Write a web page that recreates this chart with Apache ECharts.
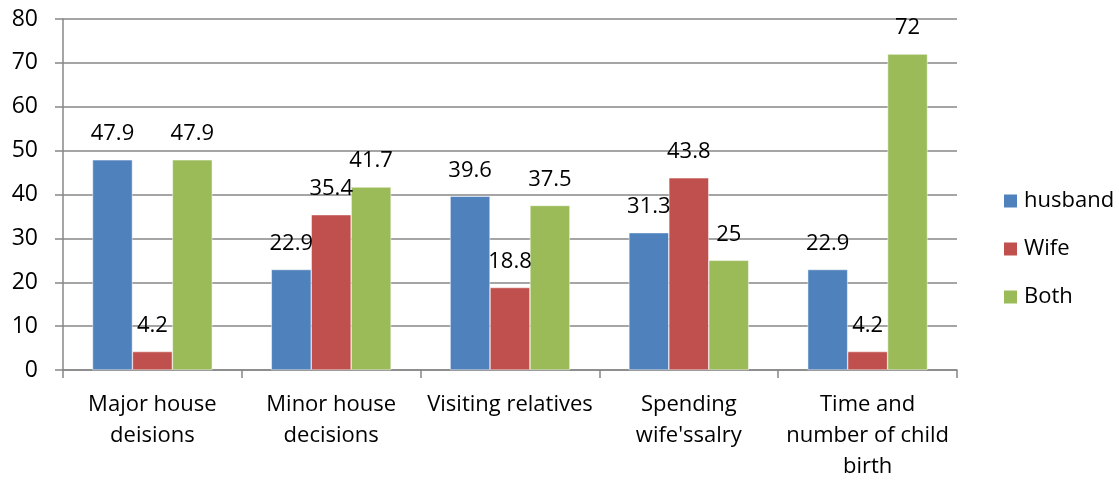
<!DOCTYPE html>
<html>
<head>
<meta charset="utf-8">
<script src="https://cdn.jsdelivr.net/npm/echarts@6/dist/echarts.min.js"></script>
<style>
  html, body { margin: 0; padding: 0; background: #fff; }
  #chart { width: 1119px; height: 480px; }
</style>
</head>
<body>
<div id="chart"></div>
<script>
  var categories = ['Major house\ndeisions', 'Minor house\ndecisions', 'Visiting relatives', 'Spending\nwife\'ssalry', 'Time and\nnumber of child\nbirth']
  var husband = [47.9, 22.9, 39.6, 31.3, 22.9]
  var wife = [4.2, 35.4, 18.8, 43.8, 4.2]
  var both = [47.9, 41.7, 37.5, 25, 72]
  var seriesNames = ['husband', 'Wife', 'Both']
  var colors = ['#4F81BD', '#C0504D', '#9BBB59']

  var fontName = 'Open Sans'
  var gray = '#878787'

  function makeSeries(name, data, color) {
    return {
      name: name,
      type: 'bar',
      data: data,
      barGap: '0%',
      barCategoryGap: '33%',
      itemStyle: { color: color, borderColor: '#fff', borderWidth: 0.5 },
      label: {
        show: true,
        position: 'top',
        distance: 15,
        color: '#000',
        fontFamily: fontName,
        fontSize: 22
      }
    }
  }

  var myChart = echarts.init(document.getElementById('chart'))
  var option = {
    animation: false,
    textStyle: { fontFamily: fontName },
    grid: { left: 63, right: 162, top: 19, bottom: 110, containLabel: false, outerBoundsMode: 'none' },
    legend: {
      orient: 'vertical',
      left: 997,
      top: 185,
      itemWidth: 15,
      itemHeight: 15,
      itemGap: 26,
      icon: 'rect',
      textStyle: { fontFamily: fontName, fontSize: 22, color: '#000', padding: [0, 0, 0, 1] },
      data: seriesNames
    },
    xAxis: {
      type: 'category',
      data: categories,
      axisLine: { lineStyle: { color: gray, width: 1.5 } },
      axisTick: { show: true, length: 8, lineStyle: { color: gray, width: 1.5 } },
      axisLabel: {
        color: '#000',
        fontFamily: fontName,
        fontSize: 22,
        lineHeight: 31,
        margin: 19,
        interval: 0
      }
    },
    yAxis: {
      type: 'value',
      min: 0,
      max: 80,
      interval: 10,
      axisLine: { show: true, lineStyle: { color: gray, width: 1.5 } },
      axisTick: { show: true, length: 8, lineStyle: { color: gray, width: 1.5 } },
      splitLine: { show: true, lineStyle: { color: gray, width: 1.5 } },
      axisLabel: {
        color: '#000',
        fontFamily: fontName,
        fontSize: 23,
        margin: 25
      }
    },
    series: [
      makeSeries(seriesNames[0], husband, colors[0]),
      makeSeries(seriesNames[1], wife, colors[1]),
      makeSeries(seriesNames[2], both, colors[2])
    ]
  }
  myChart.setOption(option)
</script>
</body>
</html>
